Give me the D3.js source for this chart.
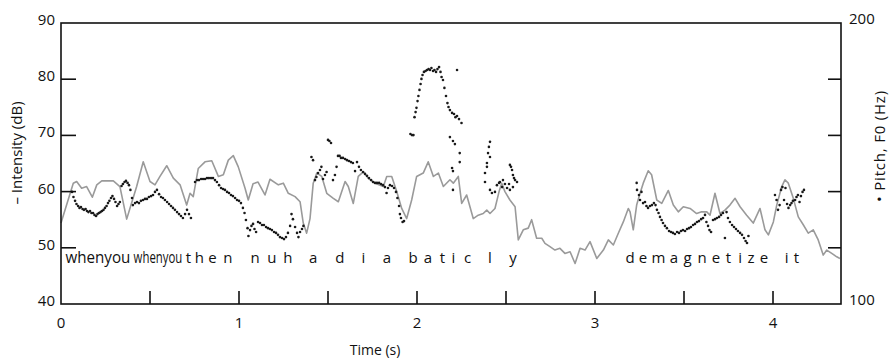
<!DOCTYPE html>
<html>
<head>
<meta charset="utf-8">
<script src="https://cdn.jsdelivr.net/npm/d3@7"></script>
<style>
  html, body { margin: 0; padding: 0; background: #fff; }
  svg { display: block; }
  text { font-family: "Open Sans", "Noto Sans", sans-serif; fill: #111; }
</style>
</head>
<body>
<svg id="chart" width="889" height="362"></svg>
<script>
// ---------------- data ----------------
const intensityTime = [0.00,0.069,0.088,0.116,0.144,0.176,0.201,0.229,0.294,0.331,0.369,0.397,0.425,0.462,0.500,0.528,0.556,0.594,0.631,0.669,0.706,0.725,0.743,0.771,0.809,0.847,0.884,0.912,0.940,0.968,0.996,1.034,1.052,1.079,1.107,1.146,1.174,1.221,1.249,1.277,1.315,1.343,1.361,1.380,1.399,1.417,1.437,1.465,1.493,1.530,1.558,1.596,1.614,1.642,1.670,1.698,1.726,1.764,1.811,1.830,1.858,1.886,1.914,1.942,1.970,1.998,2.035,2.063,2.092,2.120,2.148,2.185,2.204,2.232,2.251,2.279,2.316,2.344,2.372,2.392,2.410,2.438,2.461,2.476,2.494,2.522,2.551,2.569,2.597,2.625,2.644,2.672,2.701,2.719,2.747,2.775,2.803,2.831,2.860,2.888,2.916,2.944,2.972,3.010,3.047,3.075,3.103,3.131,3.159,3.187,3.197,3.215,3.234,3.253,3.271,3.299,3.318,3.347,3.375,3.412,3.440,3.468,3.496,3.534,3.571,3.599,3.628,3.646,3.674,3.702,3.730,3.758,3.787,3.815,3.852,3.889,3.927,3.955,3.974,4.002,4.021,4.049,4.067,4.086,4.114,4.142,4.170,4.198,4.226,4.254,4.282,4.302,4.330,4.358,4.376];
const intensityDb = [54.4,61.5,61.8,60.6,60.9,59.0,61.2,61.9,61.9,60.9,55.1,58.0,60.9,65.3,61.8,61.2,62.7,64.6,62.4,61.2,57.6,59.7,59.1,64.1,65.3,65.5,62.7,63.0,65.6,66.4,64.4,60.6,58.5,61.4,61.7,59.4,62.2,61.2,61.5,59.7,59.1,58.2,54.4,52.6,55.2,61.5,63.3,62.7,59.7,58.8,58.2,61.8,60.9,57.9,62.7,63.5,62.4,61.5,60.9,62.7,62.7,60.0,57.0,55.2,58.5,62.7,63.3,65.3,62.7,63.3,60.9,62.1,61.5,62.7,57.9,59.4,55.2,55.8,56.1,56.7,56.1,57.0,60.0,61.5,60.0,58.5,57.3,51.4,53.2,53.5,55.0,51.7,51.7,50.8,50.2,49.6,49.9,49.0,49.3,47.2,49.9,49.6,51.1,48.1,49.6,51.4,50.5,52.6,54.6,57.0,56.4,53.2,57.6,59.7,61.5,63.7,63.0,58.5,57.9,60.2,57.6,56.4,57.3,57.0,56.1,56.4,56.4,55.8,59.7,56.1,56.7,57.6,58.8,57.3,55.8,54.4,57.0,53.2,52.3,54.6,57.6,60.9,62.1,61.5,58.8,55.5,54.1,52.6,53.2,51.4,48.7,49.6,49.0,48.4,48.1];

const pitchTime = [
  // when you
  0.062,0.070,0.079,0.087,0.096,0.104,0.112,0.121,0.129,0.138,0.146,0.154,0.163,0.171,0.180,0.188,0.197,0.205,0.213,0.222,0.230,0.239,0.247,0.256,0.264,0.272,0.281,0.289,0.298,0.306,0.315,0.323,0.331,0.340,0.348,0.357,0.365,0.374,0.382,0.390,0.399,
  // when you
  0.404,0.416,0.427,0.438,0.449,0.461,0.472,0.483,0.494,0.506,0.517,0.528,0.539,0.551,0.562,0.573,0.584,0.596,0.607,0.618,0.629,0.640,0.652,0.663,0.674,0.685,0.697,0.708,0.719,0.730,
  // then
  0.753,0.764,0.775,0.787,0.798,0.809,0.820,0.831,0.843,0.854,0.865,0.876,0.888,0.899,0.910,0.921,0.933,0.944,0.955,0.966,0.978,0.989,1.000,1.011,1.022,1.031,1.039,1.048,1.053,1.062,1.070,1.079,
  // n u h
  1.087,1.096,1.107,1.118,1.129,1.140,1.152,1.163,1.174,1.185,1.197,1.208,1.219,1.230,1.242,1.253,1.264,1.275,1.287,1.295,1.303,1.315,1.326,1.334,1.343,1.354,1.362,
  // adiaba
  1.407,1.416,1.427,1.435,1.444,1.455,1.463,1.472,1.483,1.492,1.500,1.508,1.517,1.528,1.539,1.548,1.556,1.565,1.573,1.584,1.596,1.607,1.618,1.629,1.640,1.652,1.663,1.674,1.685,1.697,1.708,1.719,1.730,1.742,1.753,1.764,1.775,1.787,1.798,1.809,1.820,1.829,1.837,1.848,1.860,1.871,1.882,1.890,1.899,1.904,1.910,1.919,1.927,
  // batic
  1.963,1.972,1.980,1.986,1.992,1.997,2.003,2.008,2.014,2.020,2.025,2.031,2.039,2.048,2.056,2.065,2.073,2.081,2.090,2.098,2.107,2.115,2.124,2.132,2.138,2.146,2.154,2.163,2.171,2.177,2.185,2.197,2.208,2.216,2.225,2.236,2.250,
  2.185,2.202,2.213,2.197,2.202,2.240,2.240,2.202,2.225,
  // ly
  2.410,2.404,2.399,2.410,2.393,2.393,2.382,2.382,2.410,2.421,2.438,2.449,2.461,2.466,2.478,2.483,2.494,2.506,2.517,2.522,2.528,2.534,2.539,2.545,2.551,2.562,2.522,2.539,
  // demagnetize
  3.234,3.236,3.247,3.253,3.261,3.270,3.281,3.289,3.298,3.309,3.320,3.331,3.340,3.348,3.357,3.365,3.374,3.382,3.393,3.404,3.416,3.427,3.438,3.449,3.461,3.472,3.483,3.494,3.506,3.517,3.528,3.539,3.551,3.562,3.573,3.584,3.596,3.607,3.618,3.626,3.635,3.643,3.652,3.663,3.674,3.685,3.697,3.708,3.719,3.730,3.739,3.747,3.758,3.770,3.781,3.792,3.803,3.815,3.826,3.837,3.846,3.854,3.862,
  // it
  4.011,4.020,4.028,4.037,4.045,4.053,4.062,4.070,4.079,4.087,4.096,4.104,4.112,4.124,4.132,4.140,4.149,4.157,4.166,4.174
];
const pitchHz = [
  139.9,138.1,136.7,135.6,134.9,134.2,134.5,133.8,133.5,133.8,133.1,132.7,133.1,132.4,132.4,131.7,131.3,132.0,132.4,132.7,133.1,133.5,134.2,134.9,135.9,136.7,137.7,138.4,137.4,136.3,134.9,135.6,136.3,142.0,142.7,143.4,143.8,143.1,142.3,140.6,137.7,
  135.2,135.9,136.3,135.9,136.7,137.0,137.4,137.4,138.1,138.4,138.8,139.9,140.6,139.1,138.1,137.7,137.0,136.3,135.6,134.9,134.2,133.5,132.7,132.0,131.3,130.6,132.0,133.5,132.0,130.6,
  143.4,144.1,144.1,144.5,144.5,144.5,144.8,144.8,144.8,144.8,144.1,143.4,142.3,141.3,140.9,140.6,139.9,139.5,138.8,138.4,137.7,137.0,136.7,135.9,134.2,132.4,129.9,127.0,124.2,126.3,127.8,128.5,
  126.7,125.6,129.2,128.8,128.1,128.1,127.4,127.0,126.7,126.3,125.6,125.3,124.6,123.8,123.5,123.1,123.8,125.3,127.8,132.0,130.2,127.4,125.3,123.8,125.6,126.7,127.8,
  152.3,151.2,144.1,145.2,146.6,147.7,148.8,144.5,145.9,147.0,158.4,158.0,157.3,144.1,145.9,148.8,152.7,152.7,152.0,152.0,151.6,151.2,150.9,150.5,150.2,147.3,150.5,148.8,147.7,147.0,146.3,145.6,144.8,144.1,143.4,143.1,143.1,143.1,142.7,142.3,141.6,139.5,141.3,142.3,142.0,141.3,139.9,137.7,134.9,132.0,130.6,129.2,129.5,
  160.5,160.1,160.1,166.5,168.3,169.8,172.2,174.0,176.2,178.3,180.1,181.5,182.6,182.9,183.3,183.6,183.3,184.0,182.9,183.3,182.6,183.6,184.3,182.6,180.8,179.7,176.9,174.0,171.5,170.1,169.0,168.0,167.6,166.5,166.9,165.8,164.4,
  159.4,158.0,156.9,148.4,147.3,153.7,150.5,140.6,183.3,
  157.7,155.9,153.7,152.3,150.2,148.8,146.6,143.4,140.6,139.5,139.9,142.3,143.1,143.4,141.6,144.1,142.7,141.3,142.7,149.5,148.8,147.7,145.9,144.8,144.1,143.4,140.6,141.6,
  143.1,140.6,138.8,137.0,139.9,135.9,136.3,134.9,134.2,134.9,135.2,135.9,135.2,133.5,132.4,131.0,129.9,128.8,127.8,127.0,126.0,125.6,125.3,124.9,125.6,125.3,126.0,126.3,126.0,126.7,127.0,127.4,128.1,128.5,129.2,129.5,130.2,130.6,131.7,129.2,127.8,126.3,125.6,129.9,130.2,130.6,131.0,131.7,132.4,123.5,132.7,130.6,129.2,128.1,127.4,126.7,126.0,125.3,124.6,123.5,122.4,121.7,124.2,
  138.8,137.0,133.5,135.2,140.6,141.6,137.0,141.3,135.6,134.2,135.2,135.9,136.7,137.0,138.1,138.8,136.3,138.4,139.9,140.6
];

// condensed words: [text, start time, end time]
const wordSpans = [["whenyou", 0.025, 0.390], ["whenyou", 0.408, 0.682]];
// spaced letters: [letter, centre time]
const letterMarks = [
  ["t",0.716],["h",0.777],["e",0.851],["n",0.938],
  ["n",1.090],["u",1.185],["h",1.275],
  ["a",1.416],["d",1.567],["i",1.699],["a",1.831],["b",1.978],["a",2.062],["t",2.143],["i",2.205],["c",2.284],["l",2.410],["y",2.539],
  ["d",3.197],["e",3.270],["m",3.357],["a",3.444],["g",3.520],["n",3.601],["e",3.680],["t",3.750],["i",3.815],["z",3.876],["e",3.949],
  ["i",4.076],["t",4.132]
];

const xTicksMajor = [0, 1, 2, 3, 4];
const xTicksMinor = [0.5, 1, 1.5, 2, 2.5, 3, 3.5, 4];
const dbTickLabels = [40, 50, 60, 70, 80, 90];
const dbTickMarks = [50, 60, 70, 80];
const hzTickLabels = [100, 200];
const hzTickMarks = [120, 140, 160, 180];
const timeMax = 4.382;

// ---------------- layout ----------------
const L = 61, R = 841, T = 23, B = 304;
const svg = d3.select("#chart");
const x = d3.scaleLinear().domain([0, timeMax]).range([L, R]);
const yDb = d3.scaleLinear().domain([40, 90]).range([B, T]);
const yHz = d3.scaleLinear().domain([100, 200]).range([B, T]);

// intensity line
const intensity = intensityTime.map((t, i) => ({ t, v: intensityDb[i] }));
svg.append("path")
  .datum(intensity)
  .attr("fill", "none")
  .attr("stroke", "#9a9a9a")
  .attr("stroke-width", 1.6)
  .attr("stroke-linejoin", "round")
  .attr("d", d3.line().x(d => x(d.t)).y(d => yDb(d.v)));

// pitch dots
const pitch = pitchTime.map((t, i) => ({ t, v: pitchHz[i] }));
svg.append("g").selectAll("circle")
  .data(pitch).join("circle")
  .attr("cx", d => x(d.t))
  .attr("cy", d => yHz(d.v))
  .attr("r", 1.3)
  .attr("fill", "#1a1a1a");

// word labels (condensed horizontally to fit their time span)
const labelBase = 263;
const words = svg.append("g").selectAll("g.word")
  .data(wordSpans).join("g")
  .attr("class", "word");
words.each(function (d) {
  const g = d3.select(this);
  const t = g.append("text").style("font-size", "15.5px").text(d[0]);
  const natural = t.node().getComputedTextLength();
  const target = x(d[2]) - x(d[1]);
  const sx = Math.min(1.1, target / natural);
  g.attr("transform", `translate(${x(d[1])},${labelBase}) scale(${sx},1)`);
});
svg.append("g").selectAll("text.letter")
  .data(letterMarks).join("text")
  .attr("class", "letter")
  .attr("x", d => x(d[1]))
  .attr("y", labelBase)
  .attr("text-anchor", "middle")
  .style("font-size", "15px")
  .text(d => d[0]);

// frame
svg.append("rect")
  .attr("x", L).attr("y", T)
  .attr("width", R - L).attr("height", B - T)
  .attr("fill", "none").attr("stroke", "#111").attr("stroke-width", 1.6);

// left axis
const gL = svg.append("g").attr("transform", `translate(${L},0)`);
gL.selectAll("line").data(dbTickMarks).join("line")
  .attr("x1", 0).attr("x2", 15)
  .attr("y1", d => yDb(d)).attr("y2", d => yDb(d))
  .attr("stroke", "#111").attr("stroke-width", 1.6);
gL.selectAll("text").data(dbTickLabels).join("text")
  .attr("x", -6).attr("y", d => yDb(d) + 2)
  .attr("text-anchor", "end")
  .style("font-size", "15px")
  .text(d => d);

// right axis
const gR = svg.append("g").attr("transform", `translate(${R},0)`);
gR.selectAll("line").data(hzTickMarks).join("line")
  .attr("x1", 0).attr("x2", -13)
  .attr("y1", d => yHz(d)).attr("y2", d => yHz(d))
  .attr("stroke", "#111").attr("stroke-width", 1.6);
gR.selectAll("text").data(hzTickLabels).join("text")
  .attr("x", 8).attr("y", d => yHz(d) + 1)
  .attr("text-anchor", "start")
  .style("font-size", "15px")
  .text(d => d);

// bottom axis
const gB = svg.append("g").attr("transform", `translate(0,${B})`);
gB.selectAll("line").data(xTicksMinor).join("line")
  .attr("x1", d => x(d)).attr("x2", d => x(d))
  .attr("y1", 0).attr("y2", -13)
  .attr("stroke", "#111").attr("stroke-width", 1.6);
gB.selectAll("text").data(xTicksMajor).join("text")
  .attr("x", d => x(d)).attr("y", 24)
  .attr("text-anchor", "middle")
  .style("font-size", "15px")
  .text(d => d);

// titles
svg.append("text")
  .attr("x", 375).attr("y", 355)
  .attr("text-anchor", "middle")
  .style("font-size", "14px")
  .text("Time (s)");
svg.append("text")
  .attr("transform", "translate(22,153) rotate(-90)")
  .attr("text-anchor", "middle")
  .style("font-size", "15px")
  .text("– Intensity (dB)");
svg.append("text")
  .attr("transform", "translate(885,146) rotate(-90)")
  .attr("text-anchor", "middle")
  .style("font-size", "15px")
  .style("letter-spacing", "0.8px")
  .text("•  Pitch, F0 (Hz)");
</script>
</body>
</html>
